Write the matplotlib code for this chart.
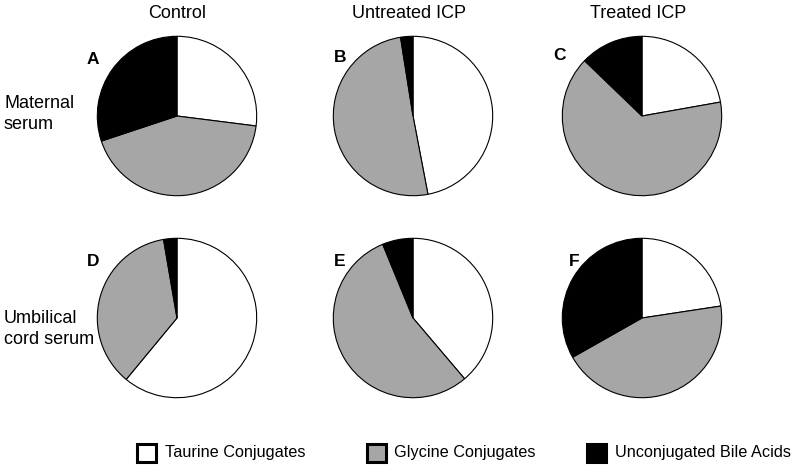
import matplotlib
matplotlib.use("Agg")
import matplotlib.pyplot as plt
from matplotlib.patches import Rectangle

plt.rcParams['font.family'] = ['Liberation Sans', 'DejaVu Sans']

# fractions: taurine, glycine, unconjugated
categories = ['Taurine Conjugates', 'Glycine Conjugates', 'Unconjugated Bile Acids']
colors = ['white', '#a6a6a6', 'black']
columns = ['Control', 'Untreated ICP', 'Treated ICP']
rows = ['Maternal\nserum', 'Umbilical\ncord serum']
panel_letters = ['A', 'B', 'C', 'D', 'E', 'F']

maternal = [
    [0.270, 0.429, 0.301],   # A control
    [0.470, 0.505, 0.025],   # B untreated ICP
    [0.222, 0.650, 0.128],   # C treated ICP
]
cord = [
    [0.610, 0.363, 0.027],   # D control
    [0.388, 0.550, 0.062],   # E untreated ICP
    [0.226, 0.442, 0.332],   # F treated ICP
]

W, H = 797, 470
fig = plt.figure(figsize=(W / 100, H / 100), dpi=100)

def px(x, y):
    return x / W, (H - y) / H

centers_x = [177, 413, 642]
centers_y = [116, 318]
r = 80.5
letter_pos = [(93, 59), (340, 58), (560, 56), (93, 262), (340, 262), (574, 262)]

data = [maternal, cord]
for i, row in enumerate(data):
    for j, vals in enumerate(row):
        cx, cy = centers_x[j], centers_y[i]
        x0, y0 = px(cx - r, cy + r)
        ax = fig.add_axes([x0, y0, 2 * r / W, 2 * r / H])
        ax.pie(vals, colors=colors, startangle=90, counterclock=False,
               wedgeprops=dict(edgecolor='black', linewidth=0.8))
        ax.set_xlim(-1.01, 1.01)
        ax.set_ylim(-1.01, 1.01)
        ax.axis('off')
        lx, ly = px(*letter_pos[i * 3 + j])
        fig.text(lx, ly, panel_letters[i * 3 + j], fontsize=12.5, fontweight='bold',
                 ha='center', va='center')

title_x = [177, 409, 638]
for j, name in enumerate(columns):
    tx, ty = px(title_x[j], 13)
    fig.text(tx, ty, name, fontsize=13, ha='center', va='center')

row_y = [114, 329]
for i, name in enumerate(rows):
    tx, ty = px(4, row_y[i])
    fig.text(tx, ty, name, fontsize=13, ha='left', va='center', linespacing=1.33)

# legend
box_x = [137, 367, 587]
text_x = [165, 394, 615]
for k, cat in enumerate(categories):
    bx, by = px(box_x[k], 462)
    fig.patches.append(Rectangle((bx, by), 18.5 / W, 18.5 / H, transform=fig.transFigure,
                                 facecolor=colors[k], edgecolor='black', linewidth=2.2))
    tx, ty = px(text_x[k], 452)
    fig.text(tx, ty, cat, fontsize=11.7, ha='left', va='center')

fig.savefig('out.png', dpi=100)
